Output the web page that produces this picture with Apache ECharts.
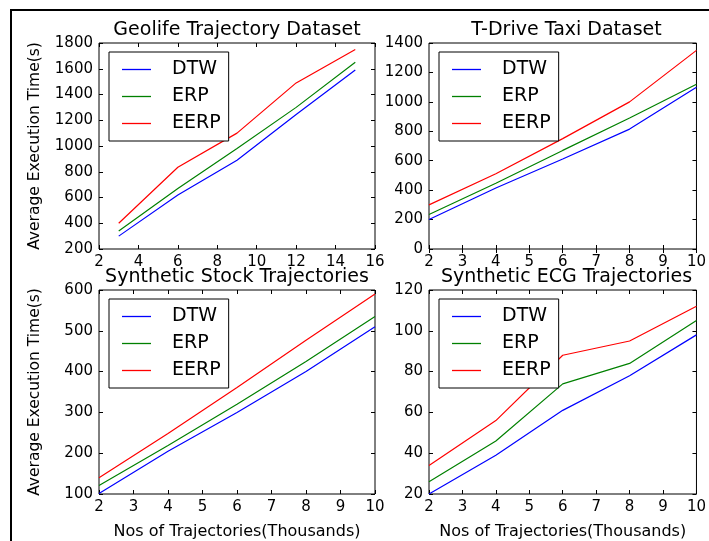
<!DOCTYPE html>
<html>
<head>
<meta charset="utf-8">
<script src="https://cdn.jsdelivr.net/npm/echarts@6/dist/echarts.min.js"></script>
<style>
  html, body { margin: 0; padding: 0; background: #fff; }
  #main { width: 709px; height: 541px; }
</style>
</head>
<body>
<div id="main"></div>
<script>
// series names and colours
var seriesNames = ['DTW', 'ERP', 'EERP']
var seriesColors = ['#0000ff', '#008000', '#ff0000']

// Geolife Trajectory Dataset
var geolifeX = [3, 6, 9, 12, 15]
var geolifeDTW = [300, 620, 890, 1245, 1590]
var geolifeERP = [340, 670, 980, 1300, 1650]
var geolifeEERP = [400, 835, 1100, 1490, 1750]

// T-Drive Taxi Dataset
var tdriveX = [2, 4, 6, 8, 10]
var tdriveDTW = [200, 415, 612, 815, 1100]
var tdriveERP = [235, 447, 670, 890, 1120]
var tdriveEERP = [300, 511, 750, 1000, 1350]

// Synthetic Stock Trajectories
var stockX = [2, 4, 6, 8, 10]
var stockDTW = [101, 205, 300, 400, 510]
var stockERP = [121, 219, 320, 425, 535]
var stockEERP = [140, 248, 361, 477, 590]

// Synthetic ECG Trajectories
var ecgX = [2, 4, 6, 8, 10]
var ecgDTW = [20, 39, 61, 78, 98]
var ecgERP = [26, 46, 74, 84, 105]
var ecgEERP = [34, 56, 88, 95, 112]

var titles = ['Geolife Trajectory Dataset', 'T-Drive Taxi Dataset', 'Synthetic Stock Trajectories', 'Synthetic ECG Trajectories']
var yAxisName = 'Average Execution Time(s)'
var xAxisName = 'Nos of Trajectories(Thousands)'

// x/y ranges of each panel: [min, max, interval]
var xRanges = [[2, 16, 2], [2, 10, 1], [2, 10, 1], [2, 10, 1]]
var yRanges = [[200, 1800, 200], [0, 1400, 200], [100, 600, 100], [20, 120, 20]]

var panelX = [geolifeX, tdriveX, stockX, ecgX]
var panelY = [
  [geolifeDTW, geolifeERP, geolifeEERP],
  [tdriveDTW, tdriveERP, tdriveEERP],
  [stockDTW, stockERP, stockEERP],
  [ecgDTW, ecgERP, ecgEERP]
]

var font = 'DejaVu Sans'
var grids = [
  { left: 99, top: 43, width: 276, height: 206 },
  { left: 429, top: 43, width: 275, height: 206 },
  { left: 99, top: 290, width: 276, height: 206 },
  { left: 429, top: 290, width: 275, height: 206 }
]

function plain(v) { return String(v) }

var option = {
  animation: false,
  backgroundColor: '#fff',
  textStyle: { fontFamily: font, color: '#000' },
  title: [],
  legend: [],
  grid: [],
  xAxis: [],
  yAxis: [],
  series: [],
  graphic: [{
    type: 'polyline',
    shape: { points: [[11, 541], [11, 10], [709, 10]] },
    style: { stroke: '#000', lineWidth: 2, fill: null }
  }]
}

grids.forEach(function (g, i) {
  option.grid.push({
    left: g.left, top: g.top, width: g.width, height: g.height,
    show: true, borderColor: '#000', borderWidth: 1, backgroundColor: '#fff'
  })
  option.title.push({
    text: titles[i],
    left: g.left + g.width / 2,
    top: g.top - 22,
    textAlign: 'center',
    padding: 0,
    textStyle: { fontFamily: font, fontSize: 19, fontWeight: 'normal', color: '#000' }
  })
  option.legend.push({
    data: seriesNames,
    orient: 'vertical',
    left: g.left + 10,
    top: g.top + 9,
    padding: [8, 8, 8, 13],
    icon: 'rect',
    itemWidth: 29,
    itemHeight: 1.3,
    itemGap: 8,
    borderColor: '#000',
    borderWidth: 1,
    borderRadius: 0,
    backgroundColor: '#fff',
    selectedMode: false,
    textStyle: { fontFamily: font, fontSize: 19, color: '#000', padding: [0, 0, 0, 16] }
  })
  var xr = xRanges[i], yr = yRanges[i]
  var lbl = { fontFamily: font, fontSize: 15, color: '#000', formatter: plain }
  // bottom axis with labels
  option.xAxis.push({
    type: 'value', gridIndex: i, min: xr[0], max: xr[1], interval: xr[2],
    position: 'bottom',
    name: i >= 2 ? xAxisName : '',
    nameLocation: 'middle', nameGap: 30,
    nameTextStyle: { fontFamily: font, fontSize: 16, color: '#000' },
    axisLine: { show: false },
    axisTick: { inside: true, length: 4, lineStyle: { color: '#000' } },
    axisLabel: Object.assign({ margin: 6 }, lbl),
    splitLine: { show: false }
  })
  // top axis, ticks only
  option.xAxis.push({
    type: 'value', gridIndex: i, min: xr[0], max: xr[1], interval: xr[2],
    position: 'top',
    axisLine: { show: false },
    axisTick: { inside: true, length: 4, lineStyle: { color: '#000' } },
    axisLabel: { show: false },
    splitLine: { show: false }
  })
  option.yAxis.push({
    type: 'value', gridIndex: i, min: yr[0], max: yr[1], interval: yr[2],
    position: 'left',
    name: i % 2 === 0 ? yAxisName : '',
    nameLocation: 'middle', nameGap: 56,
    nameTextStyle: { fontFamily: font, fontSize: 15.5, color: '#000' },
    axisLine: { show: false },
    axisTick: { inside: true, length: 4, lineStyle: { color: '#000' } },
    axisLabel: Object.assign({ margin: 6 }, lbl),
    splitLine: { show: false }
  })
  option.yAxis.push({
    type: 'value', gridIndex: i, min: yr[0], max: yr[1], interval: yr[2],
    position: 'right',
    axisLine: { show: false },
    axisTick: { inside: true, length: 4, lineStyle: { color: '#000' } },
    axisLabel: { show: false },
    splitLine: { show: false }
  })
  seriesNames.forEach(function (name, k) {
    option.series.push({
      name: name,
      type: 'line',
      xAxisIndex: i * 2,
      yAxisIndex: i * 2,
      symbol: 'none',
      color: seriesColors[k],
      lineStyle: { width: 1.2, color: seriesColors[k] },
      data: panelX[i].map(function (x, j) { return [x, panelY[i][k][j]] })
    })
  })
})

var chart = echarts.init(document.getElementById('main'))
chart.setOption(option)
</script>
</body>
</html>
